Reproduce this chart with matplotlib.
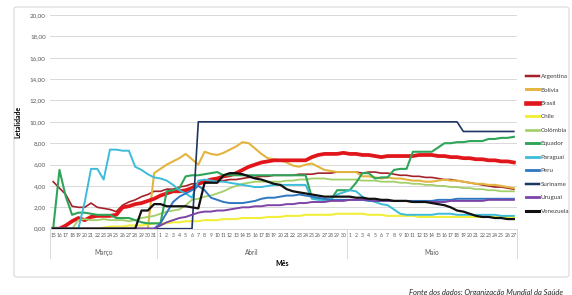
import matplotlib.pyplot as plt
from matplotlib.lines import Line2D
from matplotlib.patches import FancyBboxPatch

plt.rcParams['font.family'] = ['Lato', 'DejaVu Sans']

mar_days = [str(d) for d in range(15, 32)]
abr_days = [str(d) for d in range(1, 31)]
mai_days = [str(d) for d in range(1, 28)]
day_labels = mar_days + abr_days + mai_days
months = ['Março', 'Abril', 'Maio']
month_sizes = [len(mar_days), len(abr_days), len(mai_days)]

argentina = [4.4, 3.8, 3.2, 2.1, 2.0, 2.0, 2.4, 2.0, 1.9, 1.8, 1.6, 2.2, 2.5, 2.7, 3.0, 3.2, 3.5,
             3.5, 3.7, 3.7, 3.9, 4.0, 4.2, 4.2, 4.3, 4.4, 4.5, 4.5, 4.6, 4.6, 4.7, 4.8, 4.8, 4.9, 4.9, 5.0,
             5.0, 5.0, 5.0, 5.1, 5.1, 5.1, 5.2, 5.2, 5.2, 5.3, 5.3,
             5.3, 5.3, 5.2, 5.3, 5.3, 5.2, 5.2, 5.1, 5.0, 5.0, 4.9, 4.9, 4.8, 4.8, 4.7, 4.6, 4.6, 4.5,
             4.4, 4.3, 4.2, 4.1, 4.0, 3.9, 3.9, 3.8, 3.7]
bolivia = [0, 0, 0, 0, 0, 0, 0, 0, 0, 0, 0, 0, 0, 0, 0, 0, 5.2,
           5.6, 6.0, 6.3, 6.6, 7.0, 6.5, 6.0, 7.2, 7.0, 6.9, 7.1, 7.4, 7.7, 8.1, 8.0, 7.5, 7.0, 6.6, 6.5,
           6.4, 6.2, 5.9, 5.8, 6.0, 6.1, 5.8, 5.5, 5.4, 5.3, 5.3,
           5.3, 5.3, 4.9, 4.9, 4.8, 4.7, 4.8, 4.7, 4.7, 4.6, 4.5, 4.5, 4.4, 4.4, 4.5, 4.6, 4.5, 4.5,
           4.4, 4.3, 4.2, 4.2, 4.1, 4.1, 4.0, 3.9, 3.8]
brasil = [0, 0, 0.3, 0.7, 1.0, 0.8, 1.1, 1.2, 1.2, 1.2, 1.3, 2.0, 2.1, 2.3, 2.4, 2.6, 2.8,
          3.1, 3.3, 3.5, 3.5, 3.6, 3.8, 4.2, 4.4, 4.6, 4.7, 4.9, 5.0, 5.2, 5.5, 5.8, 6.0, 6.2, 6.3, 6.4,
          6.4, 6.4, 6.4, 6.4, 6.4, 6.7, 6.9, 7.0, 7.0, 7.0, 7.1,
          7.0, 7.0, 6.9, 6.9, 6.8, 6.7, 6.8, 6.8, 6.8, 6.8, 6.8, 6.9, 6.9, 6.9, 6.8, 6.8, 6.7, 6.7,
          6.6, 6.6, 6.5, 6.5, 6.4, 6.4, 6.3, 6.3, 6.2]
chile = [0, 0, 0, 0, 0, 0, 0, 0, 0.1, 0.2, 0.2, 0.2, 0.3, 0.3, 0.3, 0.4, 0.5,
         0.5, 0.5, 0.6, 0.6, 0.7, 0.7, 0.7, 0.8, 0.8, 0.8, 0.9, 0.9, 0.9, 1.0, 1.0, 1.0, 1.0, 1.1, 1.1,
         1.1, 1.2, 1.2, 1.2, 1.3, 1.3, 1.3, 1.3, 1.3, 1.4, 1.4,
         1.4, 1.4, 1.4, 1.3, 1.3, 1.3, 1.2, 1.2, 1.2, 1.2, 1.2, 1.1, 1.1, 1.1, 1.1, 1.1, 1.1, 1.1,
         1.1, 1.1, 1.1, 1.1, 1.1, 1.1, 1.1, 1.1, 1.1]
colombia = [0, 0, 0, 0, 0.8, 0.9, 0.8, 0.8, 0.9, 0.8, 0.8, 0.8, 0.7, 0.8, 1.0, 1.1, 1.2,
            1.4, 1.6, 1.7, 1.8, 2.2, 2.7, 2.8, 3.0, 3.1, 3.3, 3.5, 3.8, 4.0, 4.2, 4.3, 4.4, 4.4, 4.4, 4.4,
            4.4, 4.5, 4.5, 4.6, 4.6, 4.7, 4.7, 4.7, 4.6, 4.6, 4.6,
            4.6, 4.6, 4.5, 4.5, 4.5, 4.4, 4.4, 4.4, 4.3, 4.3, 4.2, 4.2, 4.1, 4.1, 4.0, 4.0, 3.9, 3.9,
            3.8, 3.8, 3.7, 3.7, 3.6, 3.6, 3.5, 3.5, 3.5]
equador = [0, 5.5, 3.0, 1.3, 1.5, 1.5, 1.4, 1.3, 1.3, 1.3, 1.0, 1.0, 1.0, 0.8, 0.6, 0.5, 0.5,
           0.5, 3.5, 3.6, 3.8, 4.9, 5.0, 5.0, 5.1, 5.2, 5.3, 5.0, 5.0, 5.0, 5.0, 5.0, 5.0, 5.0, 5.0, 5.0,
           5.0, 5.0, 5.0, 5.0, 5.0, 2.9, 2.8, 2.7, 2.7, 3.6, 3.6,
           3.6, 4.3, 5.2, 5.2, 4.7, 4.8, 4.8, 5.5, 5.6, 5.6, 7.2, 7.2, 7.2, 7.2, 7.6, 8.0, 8.0, 8.1,
           8.1, 8.2, 8.2, 8.2, 8.4, 8.4, 8.5, 8.5, 8.6]
paraguai = [0, 0, 0, 0, 0, 2.5, 5.6, 5.6, 4.6, 7.4, 7.4, 7.3, 7.3, 5.8, 5.5, 5.1, 4.8,
            4.7, 4.5, 4.1, 3.6, 3.3, 2.9, 4.5, 4.6, 4.5, 4.4, 4.4, 4.3, 4.2, 4.1, 4.0, 3.9, 3.9, 4.0, 4.1,
            4.1, 4.1, 4.1, 4.1, 4.1, 2.8, 2.7, 2.7, 2.8, 3.2, 3.4,
            3.6, 3.5, 3.0, 2.7, 2.5, 2.3, 2.2, 1.8, 1.4, 1.3, 1.3, 1.3, 1.3, 1.3, 1.4, 1.4, 1.4, 1.3,
            1.3, 1.3, 1.3, 1.3, 1.3, 1.3, 1.2, 1.2, 1.2]
peru = [0, 0, 0, 0, 0, 0, 0, 0, 0, 0, 0, 0, 0, 0, 0, 0, 0,
        0.5, 1.5, 2.5, 3.0, 3.3, 3.6, 4.0, 3.6, 2.9, 2.7, 2.5, 2.4, 2.4, 2.4, 2.5, 2.6, 2.8, 2.9, 2.9,
        3.0, 3.1, 3.1, 3.2, 3.1, 3.0, 2.9, 2.8, 2.7, 2.7, 2.7,
        2.7, 2.7, 2.7, 2.6, 2.6, 2.6, 2.6, 2.6, 2.6, 2.6, 2.6, 2.6, 2.6, 2.6, 2.7, 2.7, 2.7, 2.8,
        2.8, 2.8, 2.8, 2.8, 2.8, 2.8, 2.8, 2.8, 2.8]
suriname = [0] * 23 + [10.0] * 42 + [9.1] * 9
uruguai = [0, 0, 0, 0, 0, 0, 0, 0, 0, 0, 0, 0, 0, 0, 0, 0, 0,
           0.3, 0.6, 0.8, 1.0, 1.1, 1.3, 1.5, 1.6, 1.6, 1.7, 1.7, 1.8, 1.9, 2.0, 2.0, 2.1, 2.1, 2.2, 2.2,
           2.2, 2.3, 2.3, 2.4, 2.4, 2.5, 2.5, 2.5, 2.6, 2.6, 2.6,
           2.7, 2.7, 2.7, 2.7, 2.6, 2.6, 2.6, 2.6, 2.6, 2.6, 2.5, 2.5, 2.5, 2.5, 2.5, 2.5, 2.6, 2.6,
           2.6, 2.6, 2.6, 2.6, 2.7, 2.7, 2.7, 2.7, 2.7]
venezuela = [0, 0, 0, 0, 0, 0, 0, 0, 0, 0, 0, 0, 0, 0, 1.7, 1.7, 2.3,
             2.3, 2.1, 2.1, 2.1, 2.1, 2.0, 1.9, 4.3, 4.3, 4.3, 5.0, 5.2, 5.2, 5.1, 4.9, 4.7, 4.6, 4.4, 4.2,
             4.1, 3.7, 3.5, 3.4, 3.3, 3.2, 3.1, 3.0, 3.0, 3.0, 3.0,
             3.0, 2.9, 2.9, 2.8, 2.8, 2.7, 2.7, 2.6, 2.6, 2.6, 2.5, 2.5, 2.5, 2.4, 2.3, 2.2, 2.0, 1.7,
             1.6, 1.4, 1.2, 1.1, 1.1, 1.0, 1.0, 0.9, 0.9]

countries = ['Argentina', 'Bolívia', 'Brasil', 'Chile', 'Colômbia', 'Equador',
             'Paraguai', 'Peru', 'Suriname', 'Uruguai', 'Venezuela']
series = [argentina, bolivia, brasil, chile, colombia, equador,
          paraguai, peru, suriname, uruguai, venezuela]
colors = ['#a3222a', '#e3b43f', '#e0161b', '#f2ee3c', '#a2cf68', '#2fa55a',
          '#3cbcd8', '#2f77c0', '#1f3562', '#7d44a6', '#111111']
widths = [1.2, 1.5, 2.7, 1.5, 1.3, 1.5, 1.4, 1.4, 1.2, 1.4, 1.6]

fig = plt.figure(figsize=(5.72, 2.95), dpi=100)
border = FancyBboxPatch((14 / 572, 18 / 295), 555 / 572, 270 / 295,
                        boxstyle='round,pad=0,rounding_size=0.006',
                        transform=fig.transFigure, facecolor='none',
                        edgecolor='#d9d9d9', linewidth=0.8, zorder=-1)
fig.patches.append(border)

ax = fig.add_axes([50 / 572, 66.3 / 295, 467 / 572, 213.7 / 295])
ax.set_facecolor('none')
x = list(range(len(day_labels)))

for name, vals, c, w in zip(countries, series, colors, widths):
    ax.plot(x, vals, color=c, linewidth=w, label=name, solid_joinstyle='round')

ax.set_xlim(-0.5, len(day_labels) - 0.5)
ax.set_ylim(0, 20)
ax.set_yticks(range(0, 21, 2))
ax.set_yticklabels(['%d,00' % v for v in range(0, 21, 2)], fontsize=4.5, color='#595959')
ax.set_xticks(x)
ax.set_xticklabels(day_labels, fontsize=3.7, color='#595959')
ax.tick_params(axis='both', length=0, pad=3)
ax.grid(axis='y', color='#d9d9d9', linewidth=0.7)
ax.set_axisbelow(True)
for s in ['top', 'right', 'left']:
    ax.spines[s].set_visible(False)
ax.spines['bottom'].set_color('#d9d9d9')
ax.spines['bottom'].set_linewidth(0.7)

# month group labels under the day numbers
start = 0
bounds = [-0.5]
for m, n in zip(months, month_sizes):
    ax.text(start + n / 2 - 0.5, -2.2, m, ha='center', va='center',
            fontsize=4.7, color='#595959')
    start += n
    bounds.append(start - 0.5)
for b in bounds:
    ax.plot([b, b], [0, -2.7], color='#d9d9d9', linewidth=0.7, clip_on=False)

ax.set_ylabel('Letalidade', fontsize=5, fontweight='bold', labelpad=6)
fig.text(282 / 572, 1 - 264 / 295, 'Mês', ha='center', va='center', fontsize=5,
         fontweight='bold')

handles = [Line2D([0], [0], color=c, linewidth=w + 0.6) for c, w in zip(colors, widths)]
fig.legend(handles, countries, loc='upper left', bbox_to_anchor=(520 / 572, 1 - 68 / 295),
           frameon=False, fontsize=4.5, handlelength=2.2, handletextpad=0.2,
           labelspacing=1.3, labelcolor='#404040')

fig.text(563 / 572, 1 - 292 / 295, 'Fonte dos dados: Organização Mundial da Saúde',
         ha='right', va='center', fontsize=5.5, style='italic', color='#262626')

fig.savefig('out.png', dpi=100)
